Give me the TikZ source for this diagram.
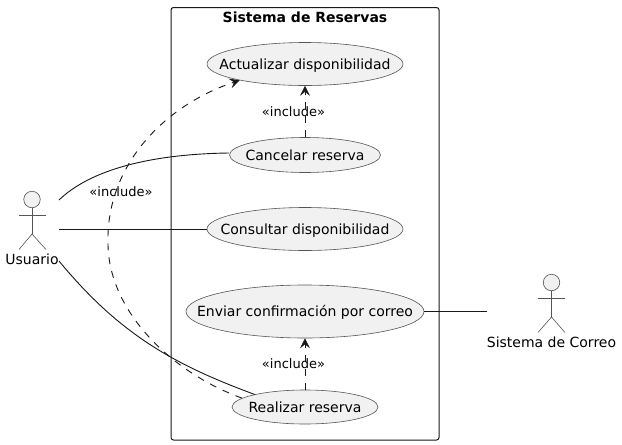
\documentclass[tikz,border=0pt]{standalone}
\usepackage{fontspec}
\setmainfont{DejaVu Sans}
\usetikzlibrary{shapes.geometric,arrows.meta}
\definecolor{ink}{HTML}{181818}
\definecolor{thin}{HTML}{555555}
\definecolor{ufill}{HTML}{F1F1F1}
\newcommand{\uctext}[1]{\smash{\raisebox{-0.37em}{\makebox[0pt]{#1}}}}
\tikzset{
  usecase/.style={ellipse,draw=thin,fill=ufill,line width=0.6pt,inner sep=0pt,text=black,font=\fontsize{14}{16}\selectfont},
  sysbox/.style={draw=ink,line width=1pt,rounded corners=2.5pt},
  titlelbl/.style={font=\fontsize{14}{16}\selectfont\bfseries,inner sep=0pt},
  actlbl/.style={font=\fontsize{14}{16}\selectfont,inner sep=0pt},
  inclbl/.style={font=\fontsize{13}{15}\selectfont,inner sep=0pt},
  assoc/.style={draw=ink,line width=0.9pt},
  incl/.style={draw=ink,line width=0.9pt,dash pattern=on 7pt off 7pt,-{Stealth[length=10pt,width=10pt,inset=4pt,line width=0.5pt]}},
  actorline/.style={draw=thin,line width=0.6pt},
  actorhead/.style={circle,draw=thin,fill=ufill,line width=0.6pt,minimum size=16.5pt,inner sep=0pt}
}
\begin{document}
\begin{tikzpicture}[x=1pt,y=-1pt]
\useasboundingbox (0,0) rectangle (622,445);
\draw[sysbox] (171,7.5) rectangle (439,440);
\node[titlelbl] (title) at (305,17) {Sistema de Reservas};

\node[usecase,minimum width=196pt,minimum height=43pt] (act) at (305,64) {\uctext{Actualizar disponibilidad}};
\node[usecase,minimum width=151pt,minimum height=35pt] (can) at (305,155) {\uctext{Cancelar reserva}};
\node[usecase,minimum width=196pt,minimum height=43pt] (con) at (305,229) {\uctext{Consultar disponibilidad}};
\node[usecase,minimum width=238pt,minimum height=53pt] (env) at (305,311.5) {\uctext{Enviar confirmación por correo}};
\node[usecase,minimum width=146pt,minimum height=34pt] (rea) at (305,407) {\uctext{Realizar reserva}};

% actor Usuario
\node[actorhead] (uh) at (32,199.5) {};
\coordinate (uhip) at (32,234);
\draw[actorline] (uh.south) -- (uhip);
\draw[actorline] (19,215) -- (46,215);
\draw[actorline] (19,249.5) -- (uhip) -- (46,249.5);
\node[actlbl] (ul) at (32,259.5) {Usuario};
\coordinate (u1) at (59,200);
\coordinate (u2) at (59,229);
\coordinate (u3) at (59,261);

% actor Sistema de Correo
\node[actorhead] (ch) at (551.5,282.5) {};
\coordinate (chip) at (551.5,317);
\draw[actorline] (ch.south) -- (chip);
\draw[actorline] (538,298) -- (565,298);
\draw[actorline] (538,332.5) -- (chip) -- (565,332.5);
\node[actlbl] (cl) at (551.5,342) {Sistema de Correo};
\coordinate (c1) at (487,311.5);

% associations
\draw[assoc] (u1) .. controls (90,170) and (150,154) .. (can.west |- 0,153);
\draw[assoc] (u2) -- (con.west);
\draw[assoc] (u3) .. controls (120,335) and (175,365) .. (rea.166);
\draw[assoc] (env.east) -- (c1);

% includes
\draw[incl] (can.north) -- (act.south);
\node[inclbl] (i1) at (293.5,112) {«include»};
\draw[incl] (rea.north) -- (env.south);
\node[inclbl] (i2) at (293.5,364) {«include»};
\draw[incl] (rea.172) .. controls (170,372) and (108,310) .. (108,243)
  .. controls (106,165) and (165,105) .. (act.194);
\node[inclbl] (i3) at (121,192) {«include»};
\end{tikzpicture}
\end{document}
